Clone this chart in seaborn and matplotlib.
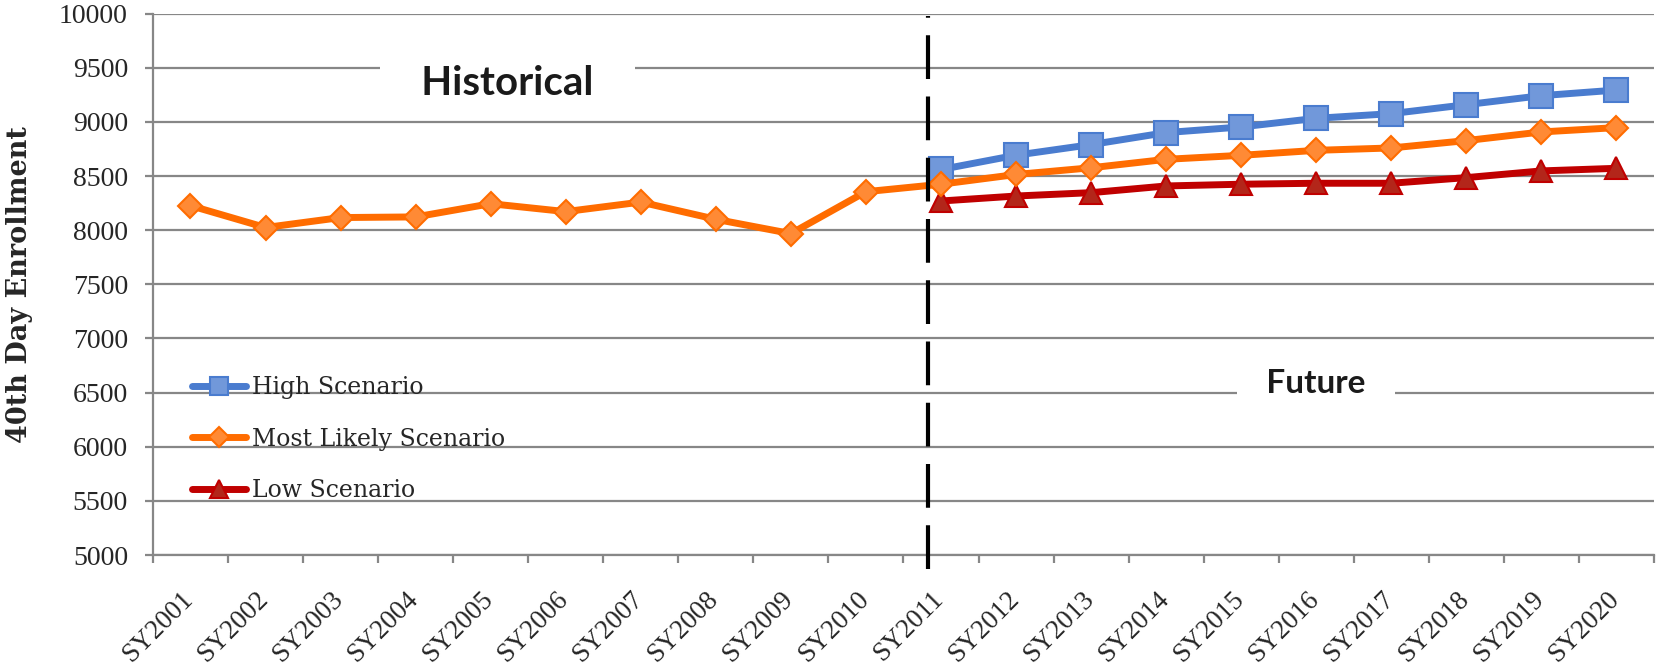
"""
40th day enrollment: historical vs projected scenarios
"""

import numpy as np
import pandas as pd
import matplotlib
matplotlib.use("Agg")
import matplotlib.pyplot as plt
import matplotlib.transforms as mtransforms
import seaborn as sns

# school years on the category axis
years = [f"SY{y}" for y in range(2001, 2021)]

# most likely scenario (historical values up to SY2010)
likely = [8227, 8025, 8117, 8123, 8245, 8172, 8260, 8101, 7969, 8356,
          8425, 8515, 8577, 8655, 8692, 8738, 8760, 8828, 8908, 8948]

# projections start at SY2011
proj_years = years[10:]
high = [8561, 8693, 8791, 8902, 8954, 9034, 9077, 9160, 9243, 9295]
low = [8270, 8316, 8347, 8409, 8425, 8434, 8434, 8486, 8548, 8572]

y_ticks = list(range(5000, 10001, 500))

sns.set_theme(style="white")
plt.rcParams["font.family"] = ["Liberation Serif", "DejaVu Serif"]

idx = {name: i for i, name in enumerate(years)}
df_likely = pd.DataFrame({"x": [idx[y] for y in years], "value": likely})
df_high = pd.DataFrame({"x": [idx[y] for y in proj_years], "value": high})
df_low = pd.DataFrame({"x": [idx[y] for y in proj_years], "value": low})

fig = plt.figure(figsize=(16.57, 6.69), dpi=100)
ax = fig.add_axes([0.0923, 0.1704, 0.9059, 0.8091])

grid_col = "#878787"
lw = 5

sns.lineplot(data=df_high, x="x", y="value", ax=ax, color="#4A7CCF", linewidth=lw,
             marker="s", markersize=17, markerfacecolor="#7198DA",
             markeredgecolor="#4A7CCF", markeredgewidth=1.5,
             label="High Scenario", zorder=4)
sns.lineplot(data=df_likely, x="x", y="value", ax=ax, color="#FF6C00", linewidth=lw,
             marker="D", markersize=12.5, markerfacecolor="#FF8A35",
             markeredgecolor="#FF6C00", markeredgewidth=1.5,
             label="Most Likely Scenario", zorder=5)
sns.lineplot(data=df_low, x="x", y="value", ax=ax, color="#C00000", linewidth=lw,
             marker="^", markersize=16, markerfacecolor="#B3261A",
             markeredgecolor="#C00000", markeredgewidth=1.5,
             label="Low Scenario", zorder=3)

# axes / grid
ax.set_xlim(-0.5, len(years) - 0.5)
ax.set_ylim(5000, 10000)
ax.set_yticks(y_ticks)
ax.set_yticklabels([str(v) for v in y_ticks], fontsize=20)
ax.yaxis.grid(True, color=grid_col, linewidth=1.6, zorder=0)
ax.xaxis.grid(False)
ax.set_axisbelow(True)

ax.set_xticks(np.arange(len(years)))
ax.set_xticklabels(years, fontsize=19.5, rotation=45, ha="right", va="top",
                   rotation_mode="anchor")
ax.set_xticks(np.arange(-0.5, len(years)), minor=True)
ax.tick_params(axis="x", which="major", length=0, pad=23)
ax.tick_params(axis="x", which="minor", length=6, width=1.6, color=grid_col,
               direction="out", bottom=True)
ax.tick_params(axis="y", length=6, width=1.6, color=grid_col, direction="out",
               left=True, pad=12)
offset = mtransforms.ScaledTranslation(-10 / 100, 0, fig.dpi_scale_trans)
for lab in ax.get_xticklabels():
    lab.set_transform(lab.get_transform() + offset)

for side in ["top", "right"]:
    ax.spines[side].set_visible(False)
for side in ["left", "bottom"]:
    ax.spines[side].set_color(grid_col)
    ax.spines[side].set_linewidth(1.6)

ax.set_xlabel("")
ax.set_ylabel("40th Day Enrollment", fontsize=19.5, fontweight="bold",
              family="DejaVu Serif")
ax.yaxis.set_label_coords(-0.080, 0.5)

# divider between historical and projected
ax.axvline(9.83, ymin=-0.026, ymax=0.996, color="black", linewidth=3,
           dashes=(10.5, 4.2), clip_on=False, zorder=6)

ax.text(4.22, 9249, "   Historical   ", fontsize=29, fontweight="bold", family="Lato",
        ha="center", va="baseline", color="#1a1a1a", zorder=2,
        bbox=dict(boxstyle="square,pad=0.3", facecolor="white", edgecolor="none"))
ax.text(15.0, 6496, "   Future   ", fontsize=24, fontweight="bold", family="Lato",
        ha="center", va="baseline", color="#1a1a1a", zorder=2,
        bbox=dict(boxstyle="square,pad=0.15", facecolor="white", edgecolor="none"))

leg = ax.legend(loc="upper left", bbox_to_anchor=(0.026, 0.330), frameon=False,
                prop={"family": "DejaVu Serif", "size": 17},
                handlelength=2.3, handletextpad=0.25,
                labelspacing=1.2, borderpad=0, borderaxespad=0, markerscale=0.8)

fig.savefig("out.png", dpi=100)
